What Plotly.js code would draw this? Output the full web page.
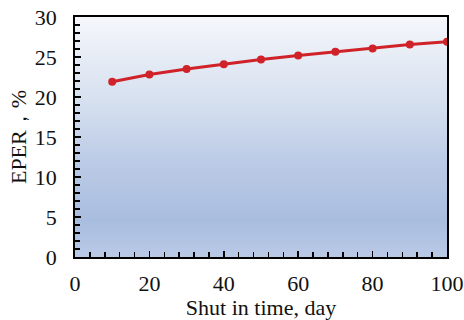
<!DOCTYPE html>
<html>
<head>
<meta charset="utf-8">
<script src="https://cdn.plot.ly/plotly-3.0.1.min.js"></script>
<style>
  html, body { margin: 0; padding: 0; background: #fff; }
  #chart { width: 464px; height: 320px; }
</style>
</head>
<body>
<div id="chart"></div>
<script>
// Shut-in time (days) and the resulting EPER (%)
const shutInDays = [10, 20, 30, 40, 50, 60, 70, 80, 90, 100];
const eperPercent = [21.9, 22.8, 23.5, 24.1, 24.7, 25.2, 25.65, 26.05, 26.55, 26.9];

const xTickVals = [0, 20, 40, 60, 80, 100];
const yTickVals = [0, 5, 10, 15, 20, 25, 30];

// Vertical gradient used as the plot-area background
const gradientSvg =
  '<svg xmlns="http://www.w3.org/2000/svg" width="10" height="100" preserveAspectRatio="none">' +
  '<defs><linearGradient id="g" x1="0" y1="0" x2="0" y2="1">' +
  '<stop offset="0" stop-color="#f5f7fb"/>' +
  '<stop offset="0.35" stop-color="#d6e0ef"/>' +
  '<stop offset="0.6" stop-color="#bccbe6"/>' +
  '<stop offset="0.85" stop-color="#a9bddf"/>' +
  '<stop offset="1" stop-color="#bac9e6"/>' +
  '</linearGradient></defs>' +
  '<rect width="10" height="100" fill="url(#g)"/></svg>';
const gradientUri = 'data:image/svg+xml;base64,' + btoa(gradientSvg);

const font = { family: 'Liberation Serif, Times New Roman, serif', size: 22, color: '#111' };

const trace = {
  x: shutInDays,
  y: eperPercent,
  type: 'scatter',
  mode: 'lines+markers',
  line: { color: '#cf2329', width: 3 },
  marker: { color: '#cf2329', size: 8 },
  hoverinfo: 'skip'
};

const axisCommon = {
  showline: true,
  linecolor: '#000',
  linewidth: 1.8,
  mirror: true,
  showgrid: false,
  zeroline: false,
  ticks: 'inside',
  ticklen: 6,
  tickwidth: 1.5,
  tickcolor: '#000',
  tickfont: font
};

const layout = {
  width: 464,
  height: 320,
  margin: { l: 75, r: 17, t: 17, b: 63 },
  paper_bgcolor: '#fff',
  plot_bgcolor: 'rgba(0,0,0,0)',
  showlegend: false,
  font: font,
  xaxis: Object.assign({}, axisCommon, {
    range: [0, 100],
    tickmode: 'array',
    tickvals: xTickVals,
    ticklabelstandoff: 6,
    minor: { dtick: 4, tick0: 0, ticks: 'inside', ticklen: 5, tickwidth: 1.5, tickcolor: '#000' },
    title: { text: 'Shut in time, day', font: font, standoff: 4 }
  }),
  yaxis: Object.assign({}, axisCommon, {
    range: [0, 30],
    tickmode: 'array',
    tickvals: yTickVals,
    ticklabelstandoff: 12,
    minor: { dtick: 1, tick0: 0, ticks: 'inside', ticklen: 5, tickwidth: 1.5, tickcolor: '#000' },
    title: { text: 'EPER，%', font: font, standoff: 2 }
  }),
  images: [{
    source: gradientUri,
    xref: 'paper', yref: 'paper',
    x: 0, y: 1, sizex: 1, sizey: 1,
    xanchor: 'left', yanchor: 'top',
    sizing: 'stretch',
    layer: 'below'
  }]
};

Plotly.newPlot('chart', [trace], layout, { staticPlot: true, displayModeBar: false });
</script>
</body>
</html>
